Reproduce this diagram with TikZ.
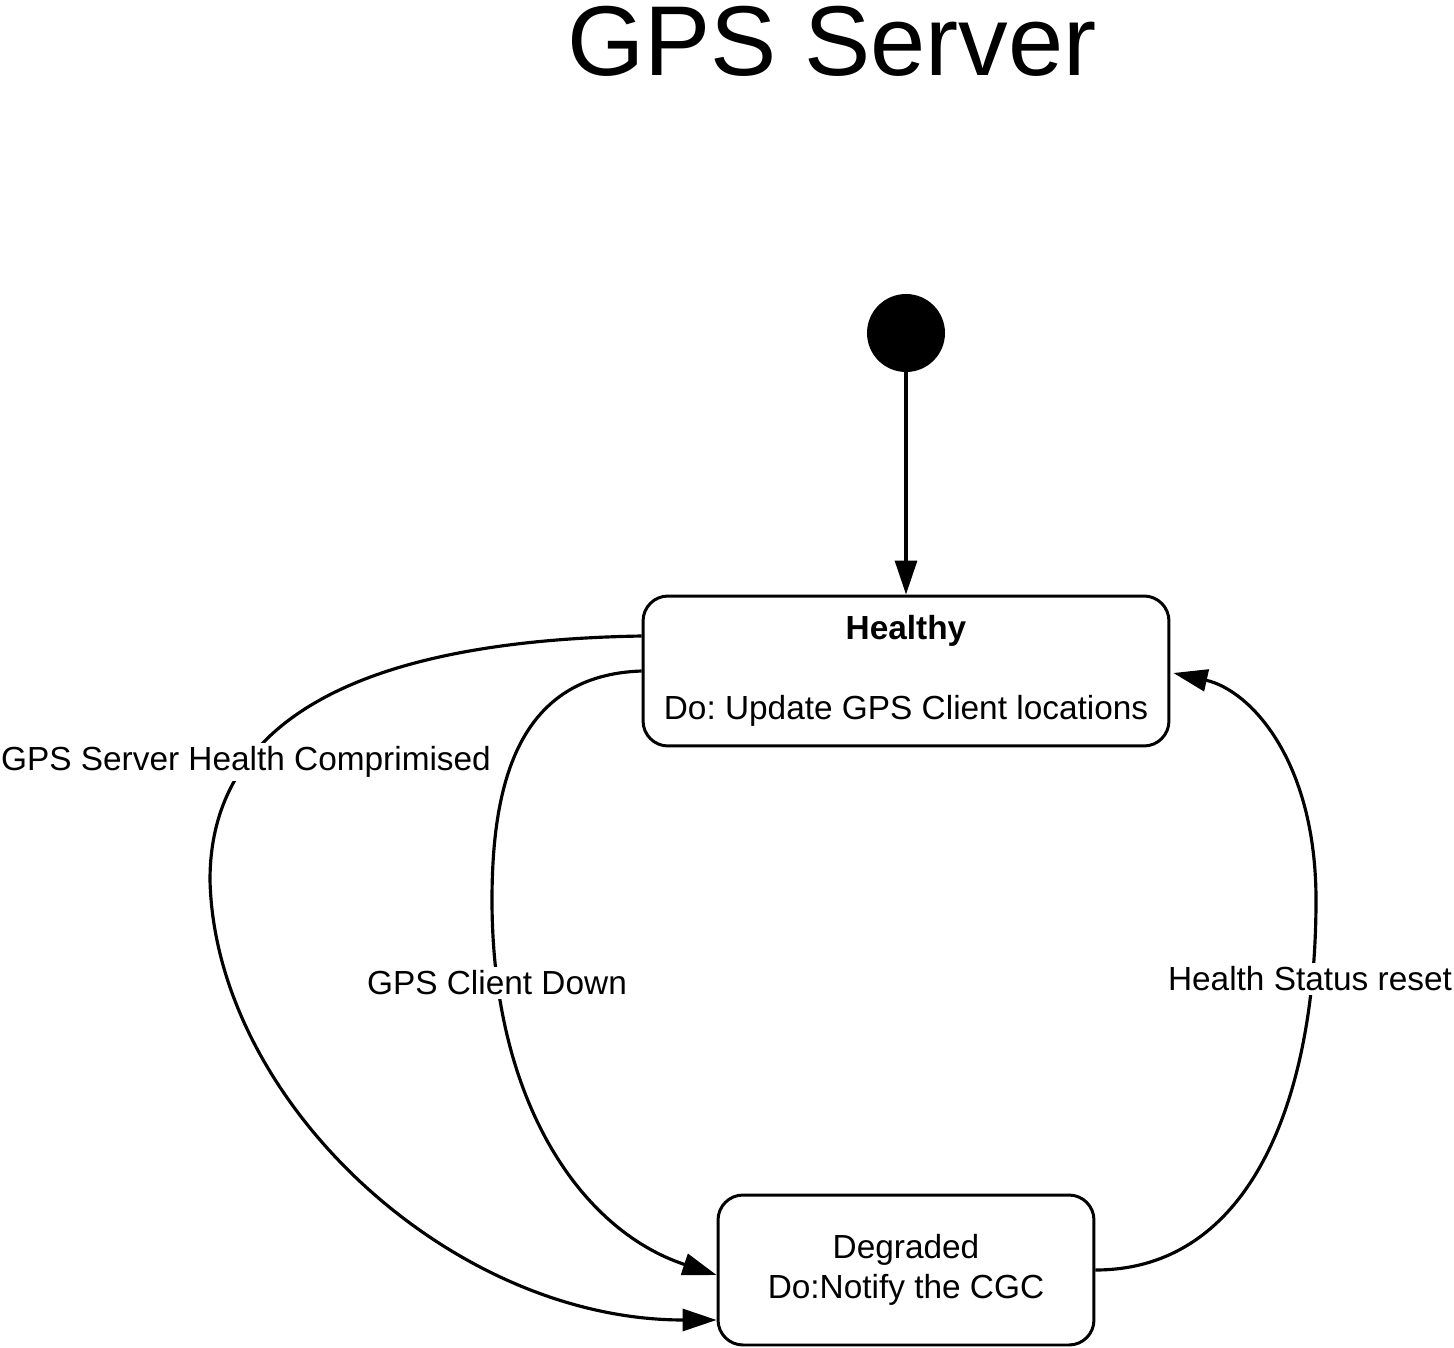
\documentclass[tikz,border=0pt]{standalone}
\usepackage{fontspec}
\setmainfont{Liberation Sans}
\usetikzlibrary{positioning}
\usetikzlibrary{arrows.meta}
\frenchspacing

\tikzset{
  state/.style={draw, line width=1.7pt, rounded corners=0.5cm, minimum height=3cm, align=center, inner sep=0pt, font=\fontsize{19}{22.8}\selectfont},
  trans/.style={-{Triangle[length=0.68cm,width=0.44cm]}, line width=1.8pt},
  lbl/.style={fill=white, inner sep=2pt, font=\fontsize{19}{22.8}\selectfont},
}

\begin{document}
\begin{tikzpicture}[x=0.02cm,y=-0.02cm]
  \useasboundingbox (0,0) rectangle (1454,1348);
  \node[inner sep=0pt](title) at (832,41) {\fontsize{56.5}{60}\selectfont GPS Server};
  \node[circle, fill, minimum size=1.56cm, inner sep=0pt](init) at (906,333) {};
  \node[state, minimum width=10.52cm](healthy) at (906,671) {\textbf{Healthy}\\[22.7pt]Do: Update GPS Client locations};
  \node[state, minimum width=7.52cm](degraded) at (906,1270) {Degraded\\Do:Notify the CGC};

  \draw[trans] (init) -- (healthy);
  \draw[trans] ([yshift=.7cm]healthy.west) .. controls (400,640) and (210,700) .. (210,880)
    .. controls (215,1100) and (450,1320) .. ([yshift=-1cm]degraded.west);
  \draw[trans] (healthy.west) .. controls (520,675) and (492,780) .. (492,900)
    .. controls (492,1100) and (580,1230) .. ([yshift=-.1cm]degraded.west);
  \draw[trans] (degraded.east) .. controls (1250,1270) and (1316,1100) .. (1316,900)
    .. controls (1316,760) and (1250,690) .. ([xshift=.06cm,yshift=-.04cm]healthy.east);

  \node[lbl](compromised) at (246,762) {GPS Server Health Comprimised};
  \node[lbl](clientdown) at (497,983) {GPS Client Down};
  \node[lbl](reset) at (1310,979) {Health Status reset};
\end{tikzpicture}
\end{document}
